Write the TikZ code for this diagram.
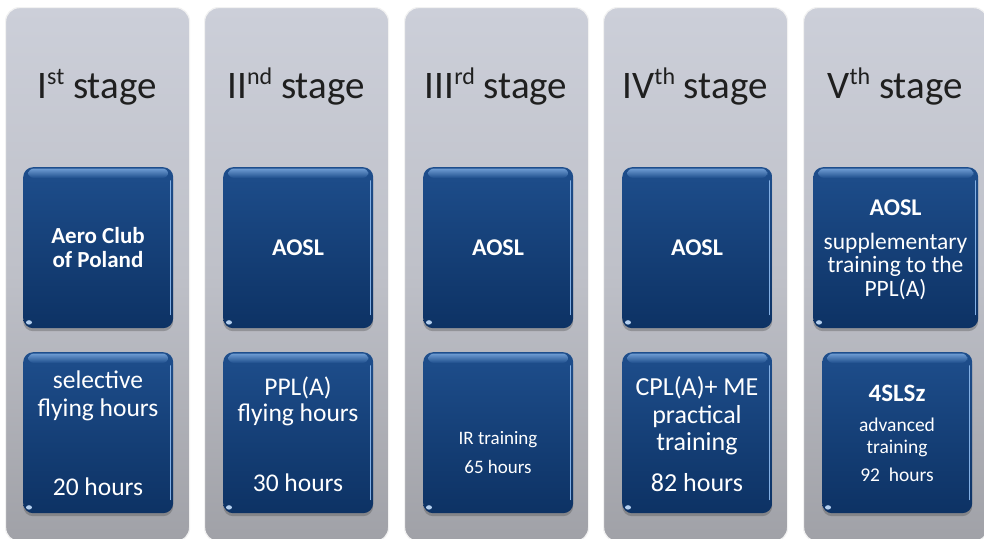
\documentclass[tikz,border=0pt]{standalone}
\usepackage{fontspec}
\setmainfont{Carlito}
\usetikzlibrary{shadows}
\definecolor{coltop}{RGB}{204,207,217}
\definecolor{colmid}{RGB}{190,192,200}
\definecolor{colbot}{RGB}{160,161,167}
\definecolor{bluetop}{RGB}{30,78,140}
\definecolor{bluebot}{RGB}{13,50,100}
\definecolor{bluehi}{RGB}{130,175,228}
\newcommand\stsup[1]{\raisebox{0.36em}{\fontsize{24}{24}\selectfont #1}}
\tikzset{
  stagecol/.style={rounded corners=14pt, top color=coltop, bottom color=colbot, middle color=colmid,
    draw=white!90!gray, line width=1.2pt, minimum width=184pt, minimum height=534pt,
    anchor=north west, inner sep=0pt},
  bluebox/.style={rounded corners=10pt, top color=bluetop, bottom color=bluebot, draw=none,
    anchor=north west, inner sep=0pt, minimum width=150pt, minimum height=161pt,
    drop shadow={shadow xshift=0pt, shadow yshift=-3pt, opacity=0.35, fill=black!70}},
  hd/.style={font=\fontsize{39}{44}\selectfont, text=black!88, inner sep=0pt, anchor=base, yshift=-12.5pt},
  wl/.style={text=white, inner sep=0pt, anchor=base},
  bt/.style={wl, font=\fontsize{#1}{#1}\selectfont\bfseries, yshift={-0.32*#1pt}},
  rt/.style={wl, font=\fontsize{#1}{#1}\selectfont, yshift={-0.32*#1pt}},
}
\begin{document}
\begin{tikzpicture}[x=1pt,y=-1pt]
\useasboundingbox (0,0) rectangle (984,538);
\fill[white] (0,0) rectangle (984,538);
% columns
\node[stagecol] (c1) at (5,7) {};
\node[stagecol] (c2) at (204,7) {};
\node[stagecol] (c3) at (404,7) {};
\node[stagecol] (c4) at (603,7) {};
\node[stagecol] (c5) at (803,7) {};
% headers
\node[hd] (h1) at (97,86) {I\stsup{st} stage};
\node[hd] (h2) at (296,86) {II\stsup{nd} stage};
\node[hd] (h3) at (496,86) {III\stsup{rd} stage};
\node[hd] (h4) at (695,86) {IV\stsup{th} stage};
\node[hd] (h5) at (895,86) {V\stsup{th} stage};
% blue boxes
\node[bluebox] (b11) at (23,167) {};
\node[bluebox] (b12) at (23,352) {};
\node[bluebox] (b21) at (223,167) {};
\node[bluebox] (b22) at (223,352) {};
\node[bluebox] (b31) at (423,167) {};
\node[bluebox] (b32) at (423,352) {};
\node[bluebox] (b41) at (622,167) {};
\node[bluebox] (b42) at (622,352) {};
\node[bluebox, minimum width=165pt] (b51) at (813,167) {};
\node[bluebox] (b52) at (822,352) {};
% glossy highlights
\foreach \b in {b11,b12,b21,b22,b31,b32,b41,b42,b51,b52}{
  \shade[top color=bluehi!80!bluetop, bottom color=bluetop, rounded corners=6pt]
    ([xshift=5pt,yshift=-1.5pt]\b.north west) rectangle ([xshift=-5pt,yshift=-11pt]\b.north east);
  \draw[bluehi, line width=1.6pt, line cap=round]
    ([xshift=-3pt,yshift=-14pt]\b.north east) -- ([xshift=-3pt,yshift=14pt]\b.south east);
  \fill[bluehi!60!white] ([xshift=6pt,yshift=6pt]\b.south west) ellipse (3pt and 2.2pt);
}
% texts column 1
\node[bt=23] (t11a) at (98,236) {Aero Club};
\node[bt=23] (t11b) at (98,260) {of Poland};
\node[rt=25.5] (t12a) at (98,380) {selective};
\node[rt=25.5] (t12b) at (98,408) {flying hours};
\node[rt=25.5] (t12c) at (98,487) {20 hours};
% column 2
\node[bt=24] (t21a) at (298,248) {AOSL};
\node[rt=25.5] (t22a) at (298,387) {PPL(A)};
\node[rt=25.5] (t22b) at (298,413) {flying hours};
\node[rt=25.5] (t22c) at (298,483) {30 hours};
% column 3
\node[bt=24] (t31a) at (498,248) {AOSL};
\node[rt=19] (t32a) at (498,438) {IR training};
\node[rt=19] (t32b) at (498,467) {65 hours};
% column 4
\node[bt=24] (t41a) at (697,248) {AOSL};
\node[rt=26] (t42a) at (697,387) {CPL(A)+ ME};
\node[rt=26] (t42b) at (697,415) {practical};
\node[rt=26] (t42c) at (697,442) {training};
\node[rt=26] (t42d) at (697,483) {82 hours};
% column 5
\node[bt=24] (t51a) at (895.5,208) {AOSL};
\node[rt=23.5] (t51b) at (895.5,242) {supplementary};
\node[rt=23.5] (t51c) at (895.5,265) {training to the};
\node[rt=23.5] (t51d) at (895.5,289) {PPL(A)};
\node[bt=25] (t52a) at (897,393) {4SLSz};
\node[rt=19.5] (t52b) at (897,425) {advanced};
\node[rt=19.5] (t52c) at (897,447) {training};
\node[rt=19.5] (t52d) at (897,475) {92\ \ hours};
\end{tikzpicture}
\end{document}
